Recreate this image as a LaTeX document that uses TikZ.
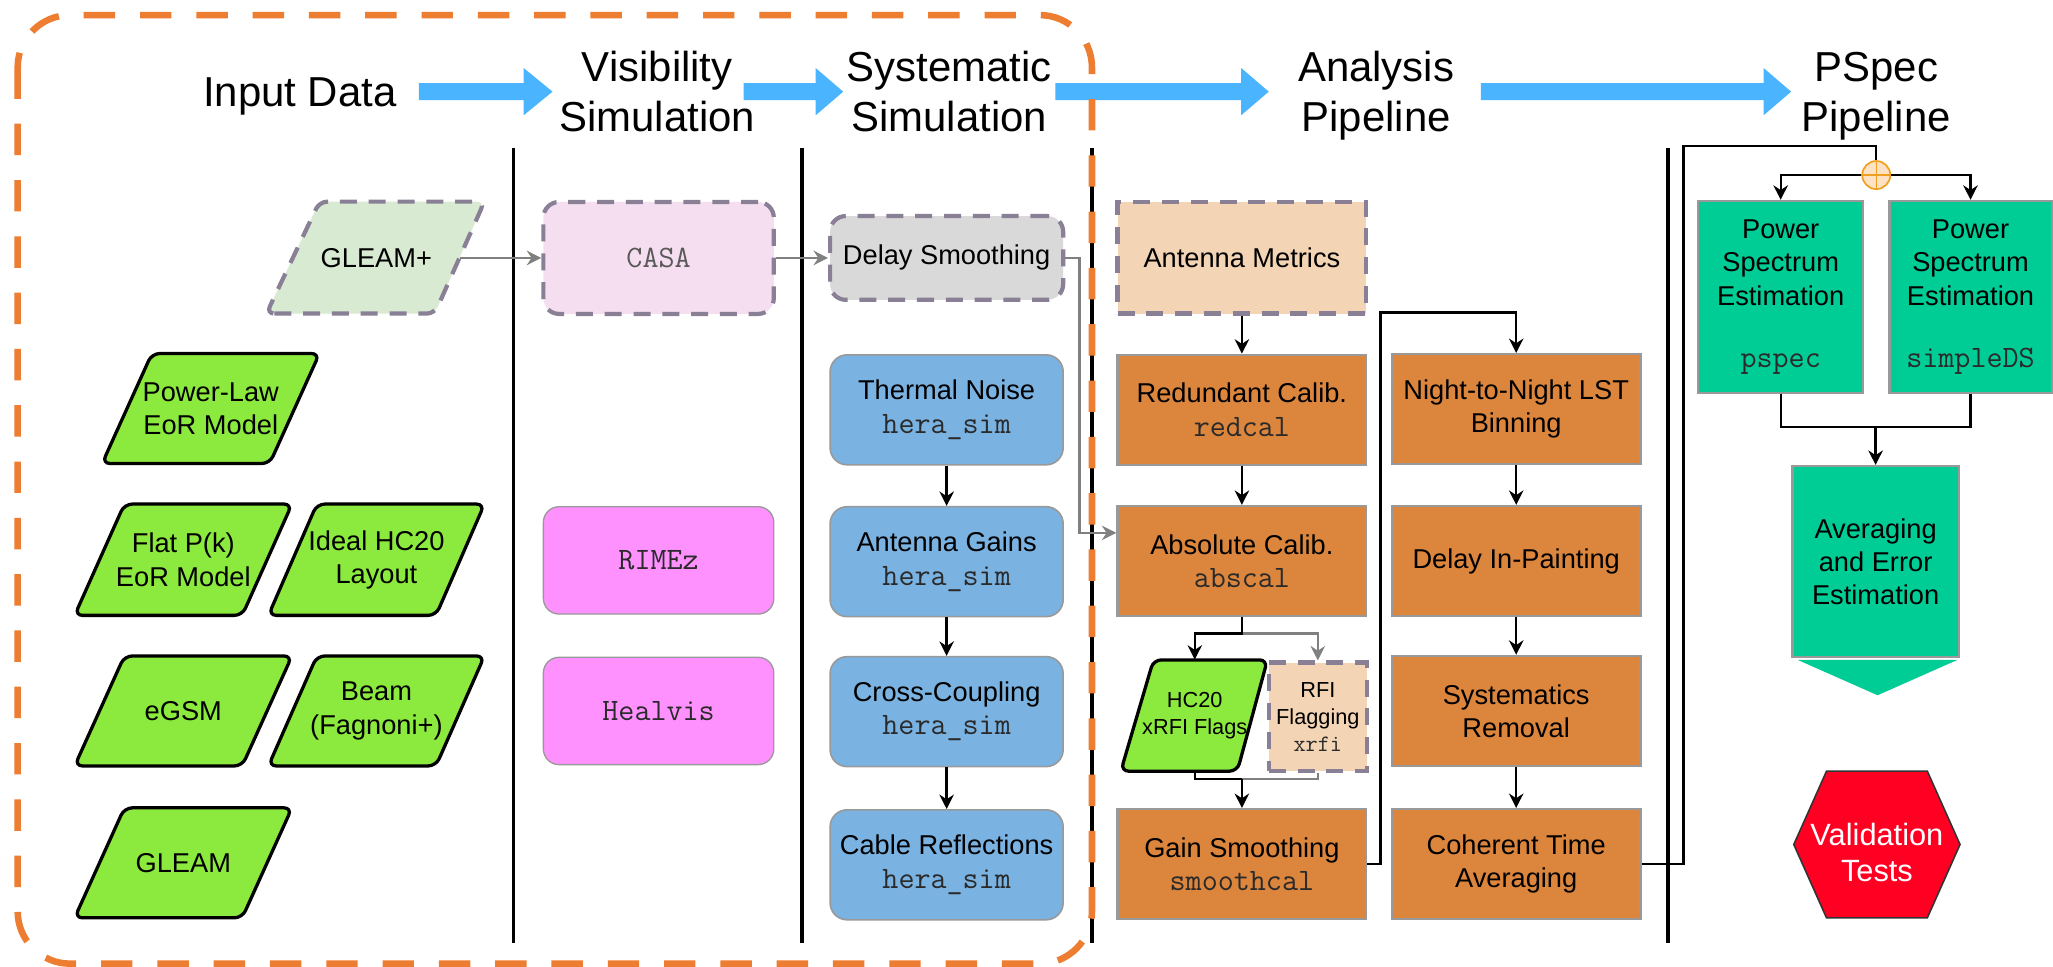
\documentclass[tikz,border=0pt]{standalone}
\usepackage{fontspec}
\setmainfont{Liberation Sans}
\usetikzlibrary{arrows.meta,calc}
\definecolor{orng}{HTML}{ED7D31}
\definecolor{arrblue}{HTML}{4AB4FF}
\definecolor{grnfill}{HTML}{8CEA3E}
\definecolor{gleamfill}{HTML}{D9EAD3}
\definecolor{dashgray}{HTML}{8A8096}
\definecolor{casafill}{HTML}{F4DEF0}
\definecolor{pinkfill}{HTML}{FF91FF}
\definecolor{dsfill}{HTML}{D9D9D9}
\definecolor{bluefill}{HTML}{7AB2E1}
\definecolor{peach}{HTML}{F3D4B4}
\definecolor{orfill}{HTML}{DC853D}
\definecolor{tealfill}{HTML}{00CC96}
\definecolor{valred}{HTML}{FF0022}
\definecolor{bordgray}{HTML}{999999}
\definecolor{conngray}{HTML}{808080}
\definecolor{circfill}{HTML}{FFE2C4}
\definecolor{circdraw}{HTML}{F0A020}
\definecolor{monocol}{HTML}{2A2A2A}
\newcommand\mtxt[1]{{\ttfamily\fontsize{23.8pt}{25.4pt}\selectfont\color{monocol}#1}}
\newcommand\smtxt[1]{{\ttfamily\fontsize{18pt}{20.5pt}\selectfont\color{monocol}#1}}
\begin{document}
\begin{tikzpicture}[x=1pt,y=-1pt,
  hdr/.style={font=\fontsize{32pt}{38pt}\selectfont,inner sep=0pt},
  txt/.style={font=\fontsize{20.8pt}{25.4pt}\selectfont,align=center,inner sep=0pt},
  stxt/.style={font=\fontsize{16.6pt}{20.4pt}\selectfont,align=center,inner sep=0pt},
  gpara/.style={draw=black,line width=2.5pt,fill=grnfill,rounded corners=6pt},
  dpara/.style={draw=dashgray,line width=3.2pt,fill=gleamfill,rounded corners=6pt,dash pattern=on 13pt off 9pt},
  pinkbox/.style={txt,draw=bordgray,line width=1pt,fill=pinkfill,rounded corners=12pt,minimum width=176pt,minimum height=82pt},
  casabox/.style={txt,draw=dashgray,line width=3.2pt,fill=casafill,rounded corners=12pt,minimum width=176pt,minimum height=85.5pt,dash pattern=on 13pt off 9pt},
  dsbox/.style={txt,draw=dashgray,line width=3.2pt,fill=dsfill,rounded corners=12pt,minimum width=178pt,minimum height=64pt,dash pattern=on 13pt off 9pt},
  bluebox/.style={txt,draw=bordgray,line width=1.2pt,fill=bluefill,rounded corners=13pt,minimum width=178pt,minimum height=84pt},
  amb/.style={txt,draw=dashgray,line width=3.2pt,fill=peach,minimum width=190pt,minimum height=85pt,dash pattern=on 13pt off 9pt},
  orbox/.style={txt,draw=bordgray,line width=1.8pt,fill=orfill,minimum width=190pt,minimum height=84pt},
  rfib/.style={stxt,draw=dashgray,line width=3.2pt,fill=peach,minimum width=75pt,minimum height=83pt,dash pattern=on 13pt off 9pt},
  tbox/.style={txt,draw=bordgray,line width=1.8pt,fill=tealfill},
  conn/.style={draw=black,line width=1.8pt,-{Stealth[length=11pt,width=11pt]}},
  bline/.style={draw=black,line width=1.8pt},
  gconn/.style={draw=conngray,line width=1.8pt,-{Stealth[length=11pt,width=11pt]}},
  gline/.style={draw=conngray,line width=1.8pt},
  bigarrow/.style={fill=arrblue}
]
\fill[white] (0,0) rectangle (1568,738);
\useasboundingbox (0,0) rectangle (1568,738);

% column separators
\foreach \xx in {392,612.5,834,1274}
  \draw[line width=2.6pt] (\xx,113) -- (\xx,720);

% big blue arrows
\fill[bigarrow] (320,63.5) -- (400,63.5) -- (400,52) -- (422,70) -- (400,88) -- (400,76.5) -- (320,76.5) -- cycle;
\fill[bigarrow] (568,63.5) -- (623,63.5) -- (623,52) -- (644,70) -- (623,88) -- (623,76.5) -- (568,76.5) -- cycle;
\fill[bigarrow] (806,63.5) -- (948,63.5) -- (948,52) -- (969,70) -- (948,88) -- (948,76.5) -- (806,76.5) -- cycle;
\fill[bigarrow] (1131,63.5) -- (1347,63.5) -- (1347,52) -- (1368,70) -- (1347,88) -- (1347,76.5) -- (1131,76.5) -- cycle;

% headers
\node[hdr,anchor=base] (hin) at (229,81.5) {Input Data};
\node[hdr,anchor=base] (hvis1) at (502,62.4) {Visibility};
\node[hdr,anchor=base] (hvis2) at (502,100.6) {Simulation};
\node[hdr,anchor=base] (hsys1) at (725,62.4) {Systematic};
\node[hdr,anchor=base] (hsys2) at (725,100.6) {Simulation};
\node[hdr,anchor=base] (han1) at (1051,62.4) {Analysis};
\node[hdr,anchor=base] (han2) at (1051,100.6) {Pipeline};
\node[hdr,anchor=base] (hps1) at (1433,62.4) {PSpec};
\node[hdr,anchor=base] (hps2) at (1433,100.6) {Pipeline};

% input data parallelograms
\draw[dpara] (203.5,239.5) -- (332,239.5) -- (370,154) -- (244,154) -- cycle;
\node[txt,minimum width=127pt,minimum height=40pt] (gleamp) at (287.4,197) {GLEAM+};
\draw[gpara] (78,354) -- (206,354) -- (244,270) -- (116,270) -- cycle;
\node[txt] (plaw) at (161,312) {Power-Law\\EoR Model};
\draw[gpara] (57,470) -- (185,470) -- (223,385) -- (95,385) -- cycle;
\node[txt] (flat) at (140,427.5) {Flat P(k)\\EoR Model};
\draw[gpara] (205,470) -- (333,470) -- (370,385) -- (242,385) -- cycle;
\node[txt] (ideal) at (287.5,427.5) {Ideal HC20\\Layout};
\draw[gpara] (57,585) -- (185,585) -- (223,501) -- (95,501) -- cycle;
\node[txt] (egsm) at (140,543) {eGSM};
\draw[gpara] (205,585) -- (333,585) -- (370,501) -- (242,501) -- cycle;
\node[txt] (beam) at (287.5,543) {Beam\\(Fagnoni+)};
\draw[gpara] (57,701) -- (185,701) -- (223,617) -- (95,617) -- cycle;
\node[txt] (gleam) at (140,659) {GLEAM};

% visibility simulation
\node[casabox] (casa) at (503,197) {{\ttfamily\fontsize{23.8pt}{25.4pt}\selectfont\color{black!65}CASA}};
\node[pinkbox] (rimez) at (503,428) {\mtxt{RIMEz}};
\node[pinkbox] (healvis) at (503,543) {\mtxt{Healvis}};

% systematic simulation
\node[dsbox] (ds) at (723,197) {Delay Smoothing};
\node[bluebox] (thermal) at (723,313) {Thermal Noise\\\mtxt{hera\_sim}};
\node[bluebox] (gains) at (723,429) {Antenna Gains\\\mtxt{hera\_sim}};
\node[bluebox] (cross) at (723,543.5) {Cross-Coupling\\\mtxt{hera\_sim}};
\node[bluebox] (cable) at (723,660.5) {Cable Reflections\\\mtxt{hera\_sim}};

% analysis pipeline
\node[amb] (am) at (948.5,197) {Antenna Metrics};
\node[orbox] (red) at (948.5,313) {Redundant Calib.\\\mtxt{redcal}};
\node[orbox] (abs) at (948.5,428.5) {Absolute Calib.\\\mtxt{abscal}};
\node[rfib] (rfi) at (1006.5,547.5) {RFI\\Flagging\\\smtxt{xrfi}};
\draw[gpara] (856,589) -- (945,589) -- (968,504) -- (881,504) -- cycle;
\node[stxt,minimum width=88pt,minimum height=85pt] (hc20) at (912.5,546.5) {HC20\\xRFI Flags};
\node[orbox] (gs) at (948.5,660) {Gain Smoothing\\\mtxt{smoothcal}};
\node[orbox] (night) at (1158,312.5) {Night-to-Night LST\\Binning};
\node[orbox] (dip) at (1158,428.5) {Delay In-Painting};
\node[orbox] (sysrem) at (1158,543) {Systematics\\Removal};
\node[orbox] (cta) at (1158,660) {Coherent Time\\Averaging};

% pspec pipeline
\node[circle,draw=circdraw,fill=circfill,line width=1.3pt,minimum size=21.4pt,inner sep=0pt] (plus) at (1433,133.7) {};
\draw[circdraw,line width=1.1pt] (plus.north) -- (plus.south) (plus.west) -- (plus.east);
\node[tbox,minimum width=126pt,minimum height=146.5pt] (pse1) at (1360,226.75) {Power\\Spectrum\\Estimation\\[22pt]\mtxt{pspec}};
\node[tbox,minimum width=124pt,minimum height=146.5pt] (pse2) at (1505,226.75) {Power\\Spectrum\\Estimation\\[22pt]\mtxt{simpleDS}};
\node[tbox,minimum width=127pt,minimum height=146pt] (avg) at (1432.5,429) {Averaging\\and Error\\Estimation};
\fill[tealfill] (1373,504) -- (1495,504) -- (1434,531) -- cycle;
\draw[draw=black!80,line width=1.2pt,fill=valred] (1370,645) -- (1395,589) -- (1472,589) -- (1497,645) -- (1472,701) -- (1395,701) -- cycle;
\node[txt,font=\fontsize{23.5pt}{28pt}\selectfont,text=white] (val) at (1433.5,651) {Validation\\Tests};

% connectors
\draw[gconn] (gleamp.east) -- (casa.west);
\draw[gconn] (casa.east) -- (ds.west);
\draw[gconn] (ds.east) -- ++(11pt,0) |- ($(abs.west)+(0,-21.5)$);
\draw[conn] (thermal.south) -- (gains.north);
\draw[conn] (gains.south) -- (cross.north);
\draw[conn] (cross.south) -- (cable.north);
\draw[conn] (am.south) -- (red.north);
\draw[conn] (red.south) -- (abs.north);
\coordinate (split) at ($(abs.south)+(0,12.5)$);
\coordinate (merge) at ($(gs.north)+(0,-22)$);
\draw[gconn] (split) -| (rfi.north);
\draw[conn] (abs.south) -- (split) -| (hc20.north);
\draw[gline] (rfi.south) |- (merge);
\draw[bline] (hc20.south) |- (merge);
\draw[conn] (merge) -- (gs.north);
\draw[conn] (gs.east) -- ++(10pt,0) |- ($(night.north)+(0,-31)$) -- (night.north);
\draw[conn] (night.south) -- (dip.north);
\draw[conn] (dip.south) -- (sysrem.north);
\draw[conn] (sysrem.south) -- (cta.north);
\draw[bline] (cta.east) -- ++(32pt,0) |- ($(plus.north)+(0,-11)$) -- (plus.north);
\draw[conn] (plus.west) -| (pse1.north);
\draw[conn] (plus.east) -| (pse2.north);
\coordinate (pmerge) at ($(avg.north)+(0,-29)$);
\draw[bline] (pse1.south) |- (pmerge) -| (pse2.south);
\draw[conn] (pmerge) -- (avg.north);

% orange dashed group
\draw[orng,line width=5pt,dash pattern=on 24pt off 19pt,rounded corners=40pt] (13.5,11.5) rectangle (834,736);
\end{tikzpicture}
\end{document}
